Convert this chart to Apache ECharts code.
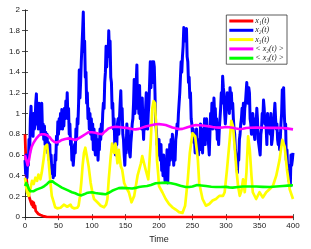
<!DOCTYPE html>
<html>
<head>
<meta charset="utf-8">
<script src="https://cdn.jsdelivr.net/npm/echarts@6/dist/echarts.min.js"></script>
<style>html,body{margin:0;padding:0;background:#fff}#c{width:311px;height:249px}</style>
</head>
<body>
<div id="c"></div>
<script>
var seriesNames = ['x₁(t)', 'x₂(t)', 'x₃(t)', '< x₂(t) >', '< x₃(t) >'];
var seriesColors = ['#ff0000', '#0000ff', '#ffff00', '#ff00ff', '#00ff00'];

var redT = [0,1,2,3,4,5,6,7,8,9,10,11,12,13,14,15,16,18,20,23,27,32,40,400];
var redV = [0.8,0.6,0.38,0.32,0.3,0.25,0.2,0.18,0.19,0.14,0.12,0.15,0.1,0.14,0.09,0.11,0.06,0.05,0.03,0.02,0.01,0.003,0,0];

// x2(t) sampled once per time unit, t = 0..400
var blueV = [
0.55,0.42,0.6,0.38,0.55,0.5,0.75,0.62,0.95,1.07,
0.8,0.95,0.78,1.0,0.85,0.9,1.1,1.19,0.9,1.05,
0.85,1.1,0.92,1.0,0.8,1.1,0.85,0.9,0.75,0.88,
0.7,0.82,0.65,0.8,0.62,0.72,0.55,0.7,0.48,0.6,
0.42,0.5,0.38,0.45,0.4,0.6,0.55,0.78,0.7,0.92,
0.8,0.95,0.85,1.0,0.9,1.04,0.85,0.95,0.88,1.05,
0.95,1.12,1.0,1.2,0.95,1.05,0.8,0.9,0.7,0.75,
0.55,0.65,0.5,0.6,0.7,0.62,0.85,0.75,0.95,0.9,
1.1,1.42,1.15,1.3,1.5,1.65,1.8,1.98,1.6,1.7,
1.35,1.4,1.1,1.2,0.95,1.05,0.85,1.0,0.8,0.95,
0.75,0.9,0.65,0.85,0.7,0.6,0.8,0.62,0.75,0.55,
0.7,0.65,0.85,0.75,0.9,0.8,1.0,1.1,1.05,1.3,
1.4,1.65,1.45,1.6,1.55,1.8,1.6,1.7,1.35,1.3,
1.05,1.1,0.85,0.95,0.7,0.6,0.78,0.7,0.9,0.95,
0.8,0.95,1.1,1.22,0.95,1.05,0.8,0.75,0.6,0.5,
0.7,0.62,0.9,0.78,0.85,0.7,0.62,0.58,0.72,0.8,
0.9,0.95,1.1,1.33,1.0,1.15,1.3,1.47,1.05,1.2,
1.0,1.27,0.95,1.1,0.85,1.15,0.9,0.75,0.95,0.85,
1.05,1.2,0.95,0.85,1.0,1.1,1.3,1.5,1.25,1.45,
1.5,1.3,1.5,1.45,1.2,0.9,0.85,0.7,0.75,0.6,
0.75,0.6,0.55,0.7,0.45,0.55,0.4,0.6,0.45,0.35,
0.5,0.4,0.65,0.33,0.55,0.5,0.7,0.55,0.75,0.6,
0.8,0.65,0.5,0.7,0.55,0.75,0.8,0.9,0.85,1.0,
1.1,1.2,1.35,1.5,1.4,1.55,1.65,1.83,1.7,1.75,
1.8,1.82,1.55,1.5,1.3,1.35,1.15,1.2,0.95,0.9,
0.8,0.85,0.72,0.75,0.62,0.7,0.85,0.65,0.7,0.6,
0.75,0.65,0.9,0.7,0.8,0.62,0.85,0.75,0.95,0.7,
0.9,0.95,0.78,0.85,0.7,0.6,0.8,1.0,0.9,1.1,
0.85,0.9,1.15,1.0,1.05,0.85,0.95,0.75,0.8,0.7,
0.85,0.95,1.05,1.2,1.1,1.36,1.25,1.2,1.0,0.9,
1.0,1.1,1.2,1.05,1.15,1.0,1.25,1.15,1.2,1.05,
1.1,0.95,0.85,0.8,0.65,0.6,0.5,0.43,0.6,0.55,
0.75,0.8,0.9,0.95,1.05,1.0,1.1,0.9,1.05,1.1,
1.2,1.3,1.15,1.1,1.25,1.2,0.95,0.9,0.8,0.85,
1.0,0.9,0.8,0.75,0.95,0.9,1.05,0.95,0.75,0.7,
0.65,0.6,0.8,0.85,1.0,0.95,1.13,1.05,0.9,0.95,
0.85,0.7,1.0,0.9,0.85,0.95,0.8,1.0,0.7,0.75,
0.85,0.9,1.0,1.1,0.95,0.85,0.9,0.75,0.7,0.8,
0.65,0.75,0.9,1.0,1.23,1.1,1.25,1.0,0.85,0.9,
0.55,0.65,0.45,0.5,0.35,0.45,0.3,0.6,0.5,0.55,
0.62];

var yellowT = [0,1.5,3,5.5,8,10.5,13,15.5,18,20,23,25,28,30,33,35,38,40,43,45,48,50,53,55,58,60,63,65,68,70,73,75,78,80,82,84,86,88,90,92,95,98,100.5,103,108,113,118,121,123,125,128,130,133,135,138,140,143,145,148,150,155,159,163,168,173,175,180,184,187.5,190,192,194,195.5,197,199,200,205,210,215,220,225,230,235,239,243,246,250,254,258,260,265,270,275,280,285,290,295.5,298,301.5,305.5,308,310.5,313,315.5,318,320.5,323,325.5,328,330.5,333,335.5,338,340,345,350,355,360,365,370,375,380,384,387.5,391,395,400];
var yellowV = [0.38,0.3,0.24,0.205,0.27,0.35,0.32,0.38,0.35,0.41,0.365,0.43,0.57,0.68,0.7,0.56,0.33,0.205,0.143,0.095,0.085,0.08,0.09,0.095,0.12,0.11,0.1,0.105,0.12,0.095,0.085,0.073,0.09,0.11,0.2,0.33,0.5,0.62,0.67,0.6,0.49,0.33,0.24,0.175,0.143,0.11,0.095,0.12,0.175,0.365,0.59,0.71,0.62,0.71,0.52,0.65,0.49,0.46,0.33,0.3,0.24,0.143,0.205,0.4,0.52,0.59,0.46,0.365,0.71,1.05,1.12,1.1,0.9,0.55,0.4,0.3,0.24,0.175,0.127,0.095,0.073,0.048,0.04,0.11,0.365,0.62,0.81,0.78,0.555,0.33,0.175,0.11,0.127,0.16,0.175,0.205,0.205,0.24,0.46,0.746,0.93,0.873,0.68,0.46,0.3,0.205,0.254,0.365,0.24,0.43,0.78,0.65,0.4,0.24,0.175,0.24,0.19,0.24,0.27,0.3,0.4,0.555,0.746,0.68,0.46,0.27,0.175];

var magT = [0,2,4,6,8,10,13,17,21,25,29,33,37,40,44,47,51,55,60,65,70,75,80,85,90,95,100,105,110,115,120,125,130,135,140,145,150,155,160,165,170,175,180,185,190,195,200,205,210,215,220,225,230,235,240,245,250,255,260,265,270,275,280,285,290,295,300,305,310,315,320,325,330,335,345,355,365,375,385,390,395,400];
var magV = [0.6,0.55,0.5,0.55,0.63,0.68,0.72,0.76,0.79,0.8,0.8,0.79,0.77,0.745,0.725,0.72,0.73,0.745,0.755,0.76,0.755,0.745,0.76,0.78,0.8,0.82,0.82,0.815,0.805,0.8,0.83,0.857,0.868,0.873,0.87,0.866,0.862,0.857,0.85,0.847,0.852,0.864,0.875,0.883,0.89,0.897,0.898,0.895,0.889,0.878,0.866,0.857,0.85,0.852,0.862,0.873,0.883,0.889,0.887,0.884,0.88,0.876,0.87,0.866,0.864,0.866,0.87,0.868,0.863,0.856,0.85,0.853,0.86,0.863,0.864,0.863,0.862,0.863,0.86,0.857,0.852,0.847];

var greenT = [0,2,4,6,8,10,13,17,21,25,29,33,36,38,41,45,50,55,60,65,70,75,80,84,88,92,96,100,105,110,115,120,125,130,135,140,145,150,155,160,165,170,175,182,188,195,200,210,218,225,232,240,245,250,257,263,270,278,285,292,300,305,310,318,325,335,345,355,365,375,385,392,400];
var greenV = [0.3,0.33,0.3,0.27,0.25,0.24,0.25,0.265,0.275,0.285,0.3,0.32,0.34,0.35,0.345,0.325,0.305,0.285,0.27,0.255,0.24,0.23,0.215,0.21,0.22,0.232,0.238,0.24,0.232,0.228,0.224,0.22,0.235,0.254,0.268,0.28,0.282,0.28,0.278,0.276,0.282,0.29,0.295,0.3,0.31,0.327,0.33,0.333,0.327,0.317,0.303,0.29,0.29,0.295,0.31,0.305,0.3,0.293,0.29,0.29,0.292,0.287,0.285,0.29,0.295,0.296,0.295,0.292,0.29,0.295,0.3,0.304,0.308];

var blueT = blueV.map(function (_, i) { return i; });
var allT = [redT, blueT, yellowT, magT, greenT];
var allV = [redV, blueV, yellowV, magV, greenV];
var widths = [2.8, 3.0, 2.7, 2.6, 2.6];

function pairs(t, v) { return t.map(function (x, i) { return [x, v[i]]; }); }

var series = seriesNames.map(function (n, i) {
  return {
    name: n, type: 'line', data: pairs(allT[i], allV[i]),
    symbol: 'none', showSymbol: false, animation: false,
    xAxisIndex: 0, yAxisIndex: 0,
    lineStyle: { color: seriesColors[i], width: widths[i], join: 'round' },
    itemStyle: { color: seriesColors[i] }
  };
});

var axisCommon = {
  axisLine: { show: true, lineStyle: { color: '#222', width: 0.8 } },
  axisTick: { show: true, inside: true, length: 3, lineStyle: { color: '#222', width: 0.8 } },
  splitLine: { show: false }
};

var chart = echarts.init(document.getElementById('c'), null, { renderer: 'canvas' });
chart.setOption({
  animation: false,
  backgroundColor: '#fff',
  grid: { left: 25, right: 18, top: 10, bottom: 29 },
  xAxis: [
    Object.assign({ type: 'value', min: 0, max: 400, interval: 50, position: 'bottom',
      axisLabel: { fontSize: 8, color: '#222', margin: 5, fontFamily: 'Liberation Sans, Arial, sans-serif' },
      name: 'Time', nameLocation: 'middle', nameGap: 16,
      nameTextStyle: { fontSize: 9, color: '#222', fontFamily: 'Liberation Sans, Arial, sans-serif' } }, axisCommon),
    Object.assign({ type: 'value', min: 0, max: 400, interval: 50, position: 'top',
      axisLabel: { show: false } }, axisCommon)
  ],
  yAxis: [
    Object.assign({ type: 'value', min: 0, max: 2, interval: 0.2, position: 'left',
      axisLabel: { fontSize: 8, color: '#222', margin: 5, fontFamily: 'Liberation Sans, Arial, sans-serif',
        formatter: function (v) { return String(Math.round(v * 10) / 10); } } }, axisCommon),
    Object.assign({ type: 'value', min: 0, max: 2, interval: 0.2, position: 'right',
      axisLabel: { show: false } }, axisCommon)
  ],
  legend: {
    orient: 'vertical', right: 24, top: 15,
    data: seriesNames,
    icon: 'rect', itemWidth: 24, itemHeight: 3, itemGap: 1.3,
    backgroundColor: '#fff', borderColor: '#333', borderWidth: 0.8,
    padding: [2, 3, 2, 3], borderRadius: 0,
    textStyle: { fontSize: 8, lineHeight: 8, color: '#222', fontStyle: 'italic',
      fontFamily: 'Liberation Serif, DejaVu Serif, serif', padding: [0, 0, 0, -3] }
  },
  series: series
});
</script>
</body>
</html>
